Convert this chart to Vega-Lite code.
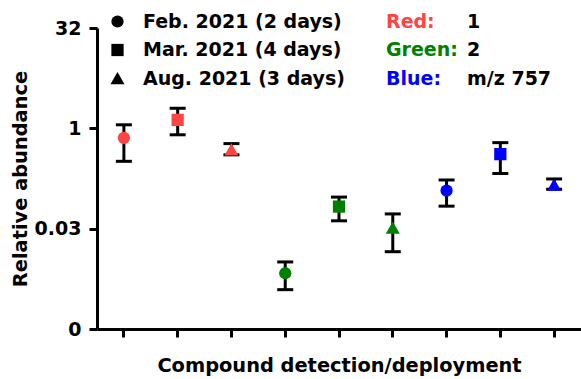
{
  "$schema": "https://vega.github.io/schema/vega-lite/v6.json",
  "width": 484,
  "height": 301,
  "autosize": {"type": "none"},
  "padding": {"left": 97, "top": 28, "right": 0, "bottom": 50},
  "background": "white",
  "config": {
    "view": {"stroke": null},
    "font": "DejaVu Sans",
    "axis": {
      "domainColor": "black", "domainWidth": 3, "tickColor": "black", "tickWidth": 3, "tickSize": 8,
      "labelFont": "DejaVu Sans", "labelFontWeight": "bold", "labelFontSize": 19, "labelColor": "black",
      "titleFont": "DejaVu Sans", "titleFontWeight": "bold", "titleFontSize": 19.4, "titleColor": "black",
      "grid": false
    },
    "legend": {
      "orient": "none", "padding": 0, "labelFont": "DejaVu Sans", "labelFontWeight": "bold",
      "labelFontSize": 19, "labelColor": "black", "labelLimit": 0, "rowPadding": 8.5, "title": null
    }
  },
  "data": {
    "values": [
      {"cat": "c1", "deploy": "Feb. 2021 (2 days)", "group": "Red:", "compound": "1", "mean": 0.72, "lo": 0.32, "hi": 1.13},
      {"cat": "c2", "deploy": "Mar. 2021 (4 days)", "group": "Red:", "compound": "1", "mean": 1.34, "lo": 0.80, "hi": 2.0},
      {"cat": "c3", "deploy": "Aug. 2021 (3 days)", "group": "Red:", "compound": "1", "mean": 0.48, "lo": 0.40, "hi": 0.59},
      {"cat": "c4", "deploy": "Feb. 2021 (2 days)", "group": "Green:", "compound": "2", "mean": 0.0067, "lo": 0.0038, "hi": 0.0099},
      {"cat": "c5", "deploy": "Mar. 2021 (4 days)", "group": "Green:", "compound": "2", "mean": 0.067, "lo": 0.041, "hi": 0.093},
      {"cat": "c6", "deploy": "Aug. 2021 (3 days)", "group": "Green:", "compound": "2", "mean": 0.032, "lo": 0.0141, "hi": 0.052},
      {"cat": "c7", "deploy": "Feb. 2021 (2 days)", "group": "Blue:", "compound": "m/z 757", "mean": 0.116, "lo": 0.068, "hi": 0.168},
      {"cat": "c8", "deploy": "Mar. 2021 (4 days)", "group": "Blue:", "compound": "m/z 757", "mean": 0.41, "lo": 0.21, "hi": 0.61},
      {"cat": "c9", "deploy": "Aug. 2021 (3 days)", "group": "Blue:", "compound": "m/z 757", "mean": 0.141, "lo": 0.122, "hi": 0.174}
    ]
  },
  "encoding": {
    "x": {
      "field": "cat", "type": "nominal", "sort": null,
      "scale": {"type": "band", "paddingInner": 0, "paddingOuter": 0},
      "axis": {"labels": false, "title": "Compound detection/deployment", "titlePadding": 18}
    }
  },
  "layer": [
    {
      "mark": {"type": "rule", "color": "black", "strokeWidth": 3, "opacity": 1},
      "encoding": {
        "y": {
          "field": "lo", "type": "quantitative",
          "scale": {"type": "log", "base": 2, "domain": [0.0009765625, 32], "nice": false, "zero": false},
          "axis": {
            "title": "Relative abundance", "values": [0.0009765625, 0.03125, 1, 32],
            "labelExpr": "datum.value >= 32 ? '32' : datum.value >= 1 ? '1' : datum.value > 0.01 ? '0.03' : '0'",
            "labelPadding": 8, "titlePadding": 4
          }
        },
        "y2": {"field": "hi"}
      }
    },
    {
      "mark": {"type": "tick", "color": "black", "thickness": 3, "size": 16, "opacity": 1},
      "encoding": {"y": {"field": "hi", "type": "quantitative"}}
    },
    {
      "mark": {"type": "tick", "color": "black", "thickness": 3, "size": 16, "opacity": 1},
      "encoding": {"y": {"field": "lo", "type": "quantitative"}}
    },
    {
      "mark": {"type": "point", "filled": true, "strokeWidth": 0},
      "encoding": {
        "y": {"field": "mean", "type": "quantitative"},
        "shape": {
          "field": "deploy", "type": "nominal",
          "scale": {"domain": ["Feb. 2021 (2 days)", "Mar. 2021 (4 days)", "Aug. 2021 (3 days)"], "range": ["circle", "M-1,-1H1V1H-1Z", "M0,-1.05L1.15,0.95L-1.15,0.95Z"]},
          "legend": {"legendX": 11, "legendY": -16, "symbolFillColor": "black", "symbolStrokeColor": "black", "symbolStrokeWidth": 0, "symbolSize": 150, "symbolOpacity": 1, "labelOffset": 16}
        },
        "size": {"value": 150},
        "color": {
          "field": "group", "type": "nominal",
          "scale": {"domain": ["Red:", "Green:", "Blue:"], "range": ["#ff4444", "#008000", "#0000ff"]},
          "legend": {"legendX": 270, "legendY": -16, "symbolSize": 0, "symbolOpacity": 0, "symbolStrokeWidth": 0, "labelOffset": 0,
            "labelColor": {"expr": "datum.label == 'Red:' ? '#ff4444' : datum.label == 'Green:' ? '#008000' : '#0000ff'"}}
        },
        "opacity": {
          "field": "compound", "type": "nominal",
          "scale": {"type": "ordinal", "domain": ["1", "2", "m/z 757"], "range": [1, 1, 1]},
          "legend": {"legendX": 351, "legendY": -16, "symbolSize": 0, "symbolOpacity": 0, "symbolStrokeWidth": 0, "labelOffset": 0}
        }
      }
    }
  ]
}
